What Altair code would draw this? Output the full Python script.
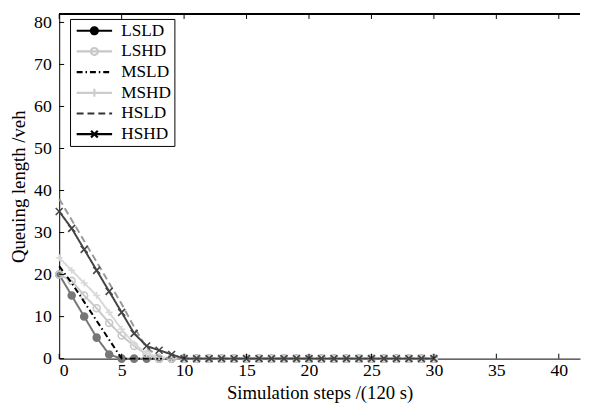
import altair as alt
import pandas as pd

series_names = ["LSLD", "LSHD", "MSLD", "MSHD", "HSLD", "HSHD"]
steps = list(range(31))

lsld = [20, 15, 10, 5, 1, 0, 0, 0, 0, 0, 0, 0, 0, 0, 0, 0, 0, 0, 0, 0, 0, 0, 0, 0, 0, 0, 0, 0, 0, 0, 0]
lshd = [20, 18.5, 15, 12, 8.5, 5.5, 3, 1, 0, 0, 0, 0, 0, 0, 0, 0, 0, 0, 0, 0, 0, 0, 0, 0, 0, 0, 0, 0, 0, 0, 0]
msld = [22, 18, 13.5, 9, 4.5, 0, 0, 0, 0, 0, 0, 0, 0, 0, 0, 0, 0, 0, 0, 0, 0, 0, 0, 0, 0, 0, 0, 0, 0, 0, 0]
mshd = [24, 21, 18, 15, 11, 7, 3.5, 1.2, 0.5, 0, 0, 0, 0, 0, 0, 0, 0, 0, 0, 0, 0, 0, 0, 0, 0, 0, 0, 0, 0, 0, 0]
hsld = [38, 33, 28, 23, 18, 13, 7.5, 2.5, 0.5, 0, 0, 0, 0, 0, 0, 0, 0, 0, 0, 0, 0, 0, 0, 0, 0, 0, 0, 0, 0, 0, 0]
hshd = [35, 31, 26, 21, 16, 11, 6, 3, 2, 1, 0, 0, 0, 0, 0, 0, 0, 0, 0, 0, 0, 0, 0, 0, 0, 0, 0, 0, 0, 0, 0]
series_values = [lsld, lshd, msld, mshd, hsld, hshd]

x_ticks = [0, 5, 10, 15, 20, 25, 30, 35, 40]
y_ticks = [0, 10, 20, 30, 40, 50, 60, 70, 80]

line_colors = ["#777777", "#c8c8c8", "#000000", "#d9d9d9", "#9a9a9a", "#444444"]
dash_patterns = [[1, 0], [1, 0], [6, 3, 1.5, 3], [1, 0], [7, 4], [1, 0]]
marker_shapes = ["circle", "circle", "circle", "M-1,0H1M0,-1V1", "circle", "M-1,-1L1,1M-1,1L1,-1"]
marker_fills = ["#777777", "transparent", "transparent", "transparent", "transparent", "transparent"]
has_markers = [True, True, False, True, False, True]

legend_colors = ["#000000", "#c8c8c8", "#000000", "#cccccc", "#333333", "#000000"]
legend_fills = ["#000000", "#ffffff", "transparent", "transparent", "transparent", "transparent"]
legend_paths = [
    "M-0.7,0H4.1M1.23,0A0.47,0.47 0 1,1 2.17,0A0.47,0.47 0 1,1 1.23,0Z",
    "M-0.7,0H4.1M1.23,0A0.47,0.47 0 1,1 2.17,0A0.47,0.47 0 1,1 1.23,0Z",
    "M-0.7,0H4.1",
    "M-0.7,0H4.1M1.7,-0.55V0.55",
    "M-0.7,0H4.1",
    "M-0.7,0H4.1M1.25,-0.45L2.15,0.45M1.25,0.45L2.15,-0.45",
]

rows = []
for name, vals in zip(series_names, series_values):
    for s, v in zip(steps, vals):
        rows.append({"series": name, "step": s, "queue": v})
df = pd.DataFrame(rows)
legend_df = df[df["step"] == 0]

FONT = "Liberation Serif"

x_enc = alt.X(
    "step:Q",
    scale=alt.Scale(domain=[0, 41.7], nice=False, zero=False),
    axis=alt.Axis(orient="bottom", values=x_ticks, title="Simulation steps /(120 s)", ticks=False,
                  labelPadding=3, titlePadding=5, grid=False),
)
y_enc = alt.Y(
    "queue:Q",
    scale=alt.Scale(domain=[0, 82], nice=False),
    axis=alt.Axis(values=y_ticks, title="Queuing length /veh", ticks=False,
                  labelPadding=8, titlePadding=5, grid=False),
)

color_scale = alt.Scale(domain=series_names, range=line_colors)
dash_scale = alt.Scale(domain=series_names, range=dash_patterns)
shape_scale = alt.Scale(domain=series_names, range=marker_shapes)
fill_scale = alt.Scale(domain=series_names, range=marker_fills)

base = alt.Chart(df)
layers = []
for name, mk in zip(series_names, has_markers):
    sub = base.transform_filter(alt.datum.series == name)
    layers.append(
        sub.mark_line(strokeWidth=2).encode(
            x=x_enc, y=y_enc,
            color=alt.Color("series:N", scale=color_scale, legend=None),
            strokeDash=alt.StrokeDash("series:N", scale=dash_scale, legend=None),
        )
    )
    if mk:
        layers.append(
            sub.mark_point(size=50, strokeWidth=1.6, filled=False, opacity=1).encode(
                x=x_enc, y=y_enc,
                color=alt.Color("series:N", scale=color_scale, legend=None),
                fill=alt.Fill("series:N", scale=fill_scale, legend=None),
                shape=alt.Shape("series:N", scale=shape_scale, legend=None),
            )
        )
main = alt.layer(*layers)

xt = pd.DataFrame({"t": x_ticks})
yt = pd.DataFrame({"t": y_ticks})
tick_bottom = alt.Chart(xt).mark_rule(color="black", strokeWidth=1).encode(
    x="t:Q", y=alt.value(350), y2=alt.value(345))
tick_top = alt.Chart(xt).mark_rule(color="black", strokeWidth=1).encode(
    x="t:Q", y=alt.value(0), y2=alt.value(5))
tick_left = alt.Chart(yt).mark_rule(color="black", strokeWidth=1).encode(
    y="t:Q", x=alt.value(0), x2=alt.value(5))
top_border = alt.Chart(xt).mark_rule(color="black", strokeWidth=1).encode(
    x=alt.value(0), x2=alt.value(529), y=alt.value(0))

leg = alt.Legend(
    title=None, orient="none", legendX=11, legendY=5, direction="vertical",
    labelFont=FONT, labelFontSize=17.5, labelColor="black", labelOffset=31, labelLimit=200,
    symbolSize=225, symbolStrokeWidth=2.2, symbolOpacity=1,
    padding=3, rowPadding=3, strokeColor="black", fillColor="white",
)
legend_layer = alt.Chart(legend_df).mark_point(opacity=0, filled=False).encode(
    x="step:Q", y="queue:Q",
    color=alt.Color("series:N", scale=alt.Scale(domain=series_names, range=legend_colors), legend=leg),
    fill=alt.Fill("series:N", scale=alt.Scale(domain=series_names, range=legend_fills), legend=leg),
    shape=alt.Shape("series:N", scale=alt.Scale(domain=series_names, range=legend_paths), legend=leg),
    strokeDash=alt.StrokeDash("series:N", scale=alt.Scale(domain=series_names, range=dash_patterns), legend=leg),
)

chart = alt.layer(main, tick_bottom, tick_top, tick_left, top_border, legend_layer).resolve_scale(
    color="independent", fill="independent", shape="independent", strokeDash="independent"
).properties(
    width=529, height=350,
    padding={"left": 2, "top": 2, "right": 0, "bottom": 0},
).configure_view(strokeWidth=0).configure_axis(
    labelFont=FONT, labelFontSize=18, labelColor="black",
    titleFont=FONT, titleFontSize=19, titleFontWeight="normal", titleColor="black",
    domainColor="black", domainWidth=1,
)

chart.save("out.html", embed_options={"renderer": "svg", "actions": False})
